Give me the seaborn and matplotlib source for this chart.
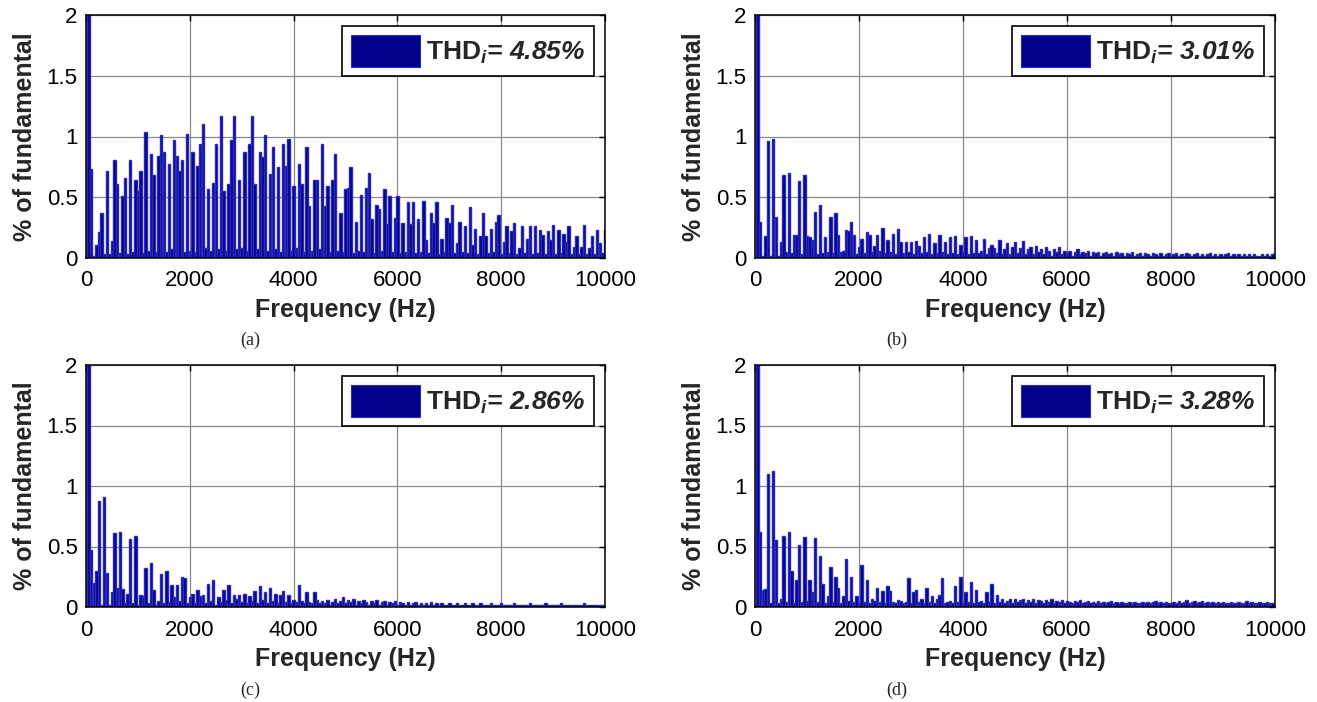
import numpy as np
import pandas as pd
import seaborn as sns
import matplotlib.pyplot as plt
from matplotlib.patches import Patch

# harmonic spectra, % of fundamental, h = 0..200 (50 Hz fundamental)
fund_hz = 50
harmonic = np.arange(201)

mag_a = [
    0, 100, 0.73, 0.02, 0.11, 0.21, 0.37, 0.03, 0.72, 0.03,
    0.14, 0.81, 0.61, 0.04, 0.51, 0.66, 0.03, 0.81, 0.05, 0.64,
    0.55, 0.72, 0.04, 1.04, 0.06, 0.86, 0.68, 0.05, 0.84, 1.01,
    0.87, 0.05, 0.77, 0.07, 0.97, 0.84, 0.72, 0.81, 0.05, 1.02,
    0.06, 0.87, 0.05, 0.76, 0.94, 1.10, 0.08, 0.57, 0.06, 0.62,
    0.94, 0.07, 1.17, 0.55, 0.06, 0.61, 0.97, 1.17, 0.07, 0.64,
    0.08, 0.87, 0.06, 0.94, 1.17, 0.61, 0.07, 0.87, 0.83, 1.01,
    0.06, 0.69, 0.91, 0.07, 0.75, 0.05, 0.94, 0.76, 0.98, 0.06,
    0.59, 0.08, 0.77, 0.61, 0.05, 0.91, 0.43, 0.06, 0.64, 0.64,
    0.07, 0.94, 0.43, 0.59, 0.05, 0.64, 0.86, 0.06, 0.37, 0.05,
    0.57, 0.58, 0.75, 0.04, 0.30, 0.06, 0.52, 0.05, 0.58, 0.70,
    0.32, 0.04, 0.44, 0.40, 0.06, 0.57, 0.28, 0.51, 0.05, 0.33,
    0.51, 0.04, 0.29, 0.05, 0.46, 0.28, 0.46, 0.04, 0.32, 0.05,
    0.47, 0.15, 0.04, 0.37, 0.29, 0.46, 0.03, 0.16, 0.05, 0.33,
    0.29, 0.44, 0.04, 0.12, 0.30, 0.05, 0.26, 0.04, 0.42, 0.11,
    0.24, 0.03, 0.18, 0.37, 0.18, 0.04, 0.24, 0.05, 0.30, 0.35,
    0.03, 0.13, 0.26, 0.04, 0.22, 0.29, 0.03, 0.08, 0.26, 0.04,
    0.16, 0.26, 0.03, 0.26, 0.04, 0.23, 0.19, 0.03, 0.22, 0.15,
    0.27, 0.03, 0.23, 0.04, 0.20, 0.13, 0.26, 0.03, 0.09, 0.18,
    0.03, 0.09, 0.27, 0.03, 0.08, 0.18, 0.03, 0.23, 0.12, 0.04,
    0.23,
]

mag_b = [
    0, 100, 0.30, 0.02, 0.18, 0.96, 0.02, 0.98, 0.34, 0.02,
    0.13, 0.68, 0.05, 0.70, 0.04, 0.19, 0.19, 0.63, 0.03, 0.68,
    0.18, 0.17, 0.15, 0.38, 0.03, 0.44, 0.04, 0.17, 0.05, 0.34,
    0.04, 0.37, 0.19, 0.05, 0.06, 0.23, 0.22, 0.30, 0.19, 0.03,
    0.09, 0.16, 0.04, 0.21, 0.19, 0.05, 0.10, 0.19, 0.06, 0.25,
    0.04, 0.15, 0.05, 0.20, 0.03, 0.24, 0.13, 0.04, 0.13, 0.05,
    0.13, 0.03, 0.14, 0.10, 0.04, 0.17, 0.05, 0.20, 0.03, 0.12,
    0.04, 0.19, 0.05, 0.13, 0.03, 0.17, 0.04, 0.18, 0.03, 0.11,
    0.05, 0.17, 0.03, 0.18, 0.04, 0.15, 0.04, 0.06, 0.16, 0.03,
    0.08, 0.11, 0.08, 0.04, 0.15, 0.03, 0.07, 0.12, 0.03, 0.09,
    0.13, 0.04, 0.08, 0.14, 0.03, 0.07, 0.09, 0.03, 0.10, 0.05,
    0.07, 0.03, 0.09, 0.06, 0.02, 0.07, 0.05, 0.09, 0.03, 0.06,
    0.04, 0.06, 0.02, 0.05, 0.07, 0.03, 0.05, 0.04, 0.06, 0.02,
    0.05, 0.04, 0.05, 0.02, 0.04, 0.05, 0.03, 0.04, 0.02, 0.05,
    0.03, 0.04, 0.02, 0.04, 0.03, 0.05, 0.02, 0.03, 0.04, 0.02,
    0.04, 0.03, 0.02, 0.04, 0.03, 0.02, 0.04, 0.02, 0.03, 0.04,
    0.02, 0.03, 0.04, 0.02, 0.03, 0.02, 0.04, 0.03, 0.02, 0.03,
    0.04, 0.02, 0.03, 0.02, 0.03, 0.04, 0.02, 0.03, 0.02, 0.03,
    0.02, 0.03, 0.04, 0.02, 0.03, 0.02, 0.03, 0.02, 0.03, 0.02,
    0.03, 0.02, 0.03, 0.02, 0.02, 0.03, 0.02, 0.03, 0.02, 0.03,
    0.04,
]

mag_c = [
    0, 100, 0.47, 0.20, 0.30, 0.88, 0.02, 0.91, 0.28, 0.02,
    0.12, 0.61, 0.16, 0.62, 0.15, 0.03, 0.11, 0.56, 0.03, 0.59,
    0.02, 0.10, 0.09, 0.32, 0.03, 0.36, 0.14, 0.02, 0.05, 0.27,
    0.03, 0.30, 0.04, 0.18, 0.08, 0.18, 0.05, 0.25, 0.24, 0.03,
    0.08, 0.11, 0.03, 0.14, 0.09, 0.10, 0.03, 0.19, 0.05, 0.22,
    0.02, 0.08, 0.04, 0.14, 0.06, 0.18, 0.03, 0.10, 0.07, 0.10,
    0.04, 0.11, 0.03, 0.09, 0.05, 0.13, 0.03, 0.17, 0.06, 0.12,
    0.03, 0.16, 0.05, 0.11, 0.03, 0.10, 0.13, 0.04, 0.10, 0.03,
    0.06, 0.04, 0.18, 0.05, 0.03, 0.12, 0.04, 0.03, 0.12, 0.06,
    0.03, 0.05, 0.03, 0.06, 0.02, 0.04, 0.07, 0.03, 0.05, 0.08,
    0.03, 0.06, 0.04, 0.07, 0.02, 0.05, 0.03, 0.06, 0.04, 0.02,
    0.05, 0.03, 0.06, 0.02, 0.04, 0.05, 0.02, 0.04, 0.03, 0.05,
    0.02, 0.04, 0.03, 0.02, 0.04, 0.02, 0.03, 0.04, 0.02, 0.03,
    0.02, 0.03, 0.02, 0.04, 0.02, 0.03, 0.02, 0.03, 0.02, 0.02,
    0.03, 0.02, 0.02, 0.03, 0.02, 0.02, 0.03, 0.02, 0.02, 0.03,
    0.02, 0.02, 0.03, 0.02, 0.02, 0.02, 0.03, 0.02, 0.02, 0.02,
    0.03, 0.02, 0.02, 0.02, 0.02, 0.03, 0.02, 0.02, 0.02, 0.02,
    0.02, 0.03, 0.02, 0.02, 0.02, 0.02, 0.02, 0.03, 0.02, 0.02,
    0.02, 0.02, 0.02, 0.03, 0.02, 0.02, 0.02, 0.02, 0.02, 0.02,
    0.02, 0.02, 0.03, 0.02, 0.02, 0.02, 0.02, 0.02, 0.02, 0.02,
    0.02,
]

mag_d = [
    0, 100, 0.62, 0.14, 0.15, 1.10, 0.03, 1.12, 0.55, 0.03,
    0.07, 0.59, 0.04, 0.62, 0.30, 0.03, 0.22, 0.51, 0.04, 0.58,
    0.05, 0.22, 0.12, 0.57, 0.04, 0.42, 0.19, 0.03, 0.09, 0.33,
    0.04, 0.25, 0.16, 0.03, 0.09, 0.40, 0.05, 0.25, 0.04, 0.09,
    0.03, 0.35, 0.04, 0.22, 0.03, 0.07, 0.05, 0.16, 0.04, 0.13,
    0.03, 0.17, 0.13, 0.04, 0.03, 0.06, 0.05, 0.03, 0.04, 0.24,
    0.03, 0.12, 0.14, 0.04, 0.07, 0.03, 0.16, 0.04, 0.09, 0.03,
    0.07, 0.10, 0.24, 0.03, 0.04, 0.05, 0.03, 0.17, 0.04, 0.25,
    0.03, 0.12, 0.04, 0.21, 0.03, 0.14, 0.04, 0.05, 0.03, 0.12,
    0.04, 0.19, 0.03, 0.10, 0.04, 0.07, 0.03, 0.05, 0.07, 0.03,
    0.07, 0.04, 0.06, 0.07, 0.03, 0.06, 0.04, 0.07, 0.03, 0.06,
    0.05, 0.03, 0.06, 0.04, 0.07, 0.03, 0.05, 0.04, 0.06, 0.03,
    0.05, 0.04, 0.03, 0.05, 0.04, 0.06, 0.03, 0.04, 0.05, 0.03,
    0.04, 0.03, 0.05, 0.03, 0.04, 0.03, 0.04, 0.05, 0.03, 0.04,
    0.03, 0.04, 0.03, 0.03, 0.04, 0.03, 0.04, 0.03, 0.03, 0.04,
    0.03, 0.04, 0.03, 0.04, 0.05, 0.03, 0.04, 0.03, 0.04, 0.03,
    0.03, 0.04, 0.03, 0.05, 0.03, 0.04, 0.06, 0.03, 0.04, 0.05,
    0.03, 0.04, 0.05, 0.03, 0.04, 0.03, 0.04, 0.03, 0.04, 0.03,
    0.04, 0.03, 0.03, 0.04, 0.03, 0.03, 0.04, 0.03, 0.03, 0.05,
    0.03, 0.04, 0.03, 0.03, 0.04, 0.03, 0.03, 0.04, 0.03, 0.03,
    0.02,
]

panel_tags = ["(a)", "(b)", "(c)", "(d)"]
thd_values = ["4.85%", "3.01%", "2.86%", "3.28%"]
x_ticks = [0, 2000, 4000, 6000, 8000, 10000]
y_ticks = [0, 0.5, 1, 1.5, 2]
y_ticklabels = ["0", "0.5", "1", "1.5", "2"]

NAVY = "#00008b"
EDGE = "#2a2ab8"

sns.set_theme(style="white")
plt.rcParams["font.family"] = ["Liberation Sans", "DejaVu Sans"]
plt.rcParams["mathtext.fontset"] = "custom"
plt.rcParams["mathtext.rm"] = "Liberation Sans:bold"
plt.rcParams["mathtext.it"] = "Liberation Sans:bold:italic"
plt.rcParams["mathtext.bf"] = "Liberation Sans:bold"

fig = plt.figure(figsize=(13.17, 7.02), dpi=100)

W, H = 1317, 702
# axes boxes in pixels: left, top, right, bottom
boxes = [(86, 15, 605, 258), (755, 15, 1275, 258),
         (86, 365, 605, 607), (755, 365, 1275, 607)]
caption_xy = [(250, 340), (897, 340), (250, 690), (897, 690)]

for i, mags in enumerate([mag_a, mag_b, mag_c, mag_d]):
    l, t, r, b = boxes[i]
    ax = fig.add_axes([l / W, 1 - b / H, (r - l) / W, (b - t) / H])
    df = pd.DataFrame({"freq": harmonic * fund_hz, "mag": mags})
    sns.barplot(data=df, x="freq", y="mag", native_scale=True, width=0.95,
                color=NAVY, saturation=1, edgecolor=EDGE, linewidth=1.0,
                errorbar=None, ax=ax)
    ax.set_xlim(0, 10000)
    ax.set_ylim(0, 2)
    ax.set_xticks(x_ticks)
    ax.set_xticklabels([str(v) for v in x_ticks])
    ax.set_yticks(y_ticks)
    ax.set_yticklabels(y_ticklabels)
    ax.set_axisbelow(True)
    ax.grid(True, color="#8a8a8a", linewidth=0.9)
    ax.tick_params(direction="in", top=True, right=True, length=4,
                   width=1, labelsize=16, colors="black")
    ax.tick_params(axis="x", pad=9)
    ax.tick_params(axis="y", pad=6)
    for sp in ax.spines.values():
        sp.set_visible(True)
        sp.set_color("black")
        sp.set_linewidth(1.1)
    ax.set_xlabel("Frequency (Hz)", fontsize=18, fontweight="bold", labelpad=5)
    ax.set_ylabel("% of fundamental", fontsize=18, fontweight="bold", labelpad=7)

    label = r"$\mathrm{THD}_{i}$= " + thd_values[i]
    handle = Patch(facecolor=NAVY, edgecolor=EDGE, linewidth=0.8)
    leg = ax.legend([handle], [label], loc="upper right",
                    prop={"family": "Liberation Sans", "weight": "bold",
                          "style": "italic", "size": 19},
                    handlelength=2.6, handleheight=1.5, handletextpad=0.25,
                    borderpad=0.35, borderaxespad=0.4, fancybox=False,
                    framealpha=1, edgecolor="black")
    leg.get_frame().set_linewidth(1.2)

    cx, cy = caption_xy[i]
    fig.text(cx / W, 1 - cy / H, panel_tags[i], ha="center", va="center",
             fontsize=13, family="Liberation Serif")

fig.savefig("out.png", dpi=100)
